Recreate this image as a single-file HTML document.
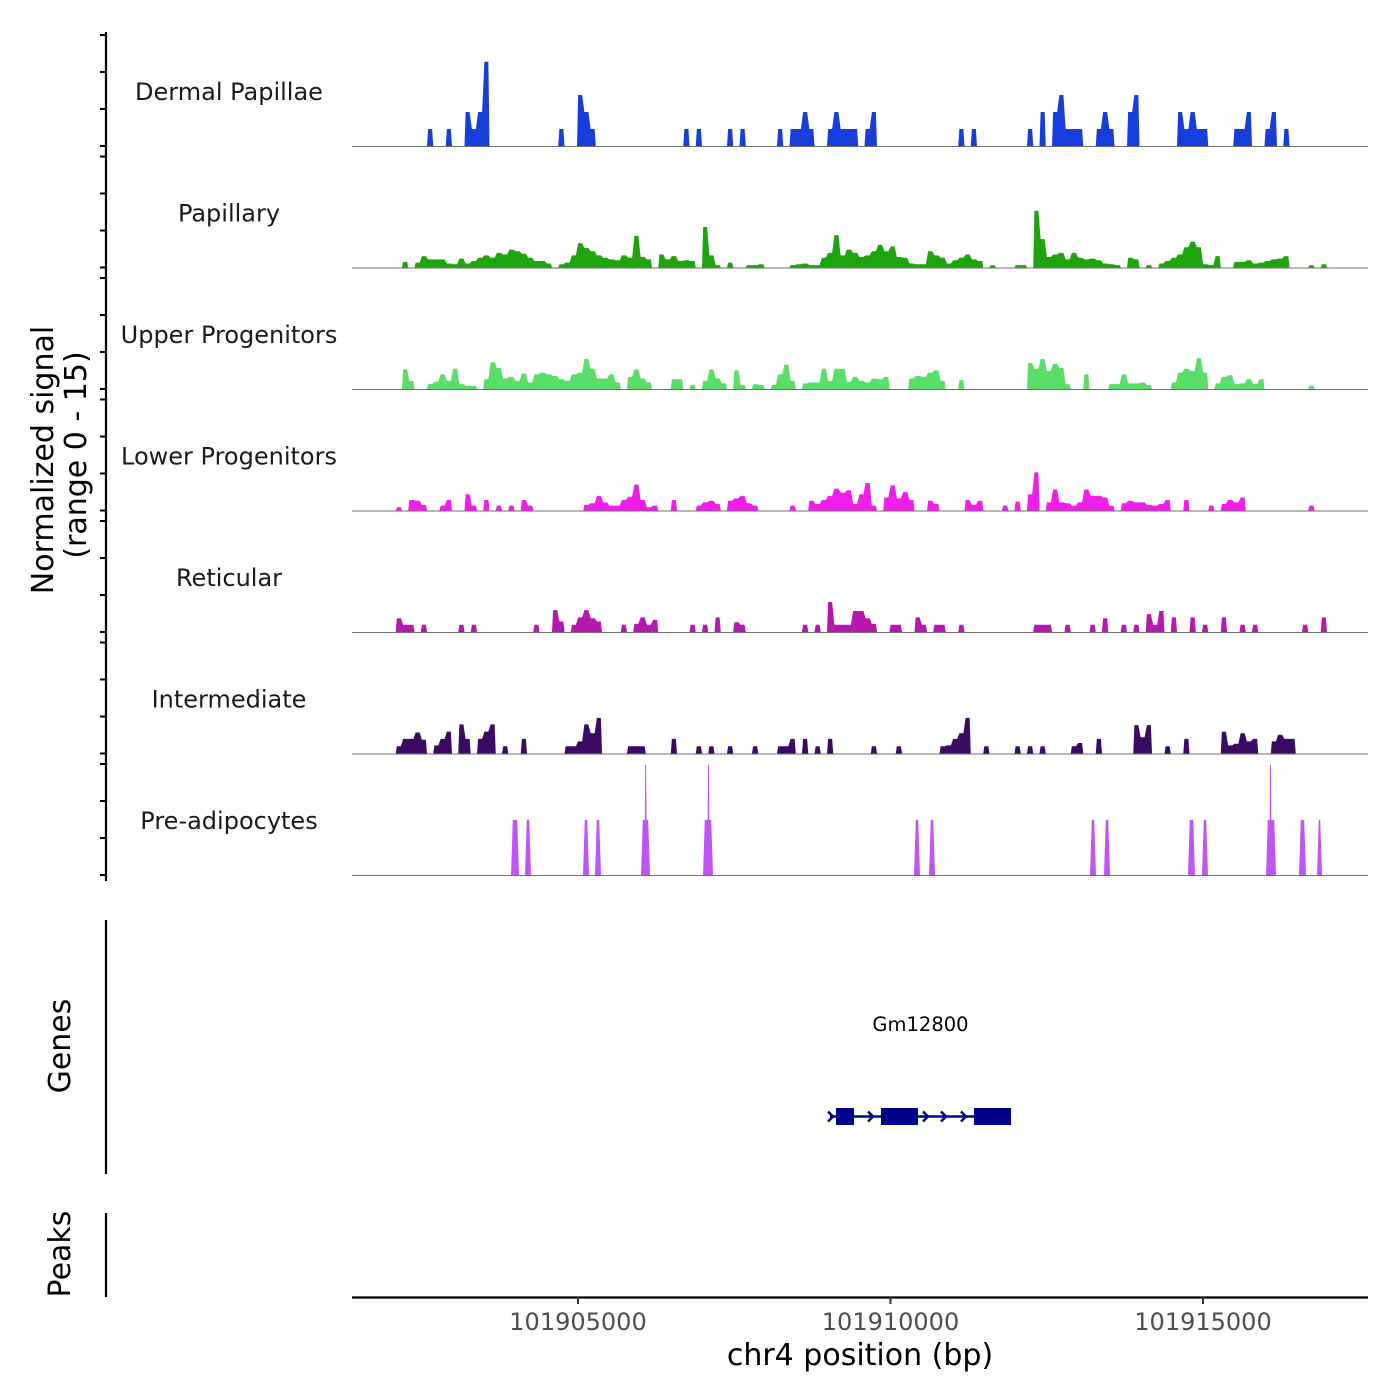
<!DOCTYPE html>
<html><head><meta charset="utf-8">
<style>
html,body{margin:0;padding:0;background:#fff;}
svg{display:block;font-family:"DejaVu Sans","Liberation Sans",sans-serif;}
</style></head>
<body>
<svg id="chart" width="1400" height="1400" viewBox="0 0 1400 1400" xmlns="http://www.w3.org/2000/svg">
<rect width="1400" height="1400" fill="#fff"/>
</svg>
<script>
// ---- data ----
const trackNames = ["Dermal Papillae","Papillary","Upper Progenitors","Lower Progenitors","Reticular","Intermediate","Pre-adipocytes"];
const trackColors = ["#173ddb","#1ea50d","#5bdd6a","#f01ee8","#b517af","#3b0b63","#c055f5"];
const binStartBp = 101901384;
const binSizeBp = 100;
const xTickValues = [101905000,101910000,101915000];
const xTickLabels = ["101905000","101910000","101915000"];
const yTickValues = [0,5,10,15];
// [bin index, normalized signal]
const dermalPapillae = [[12,2.1],[15,2.1],[18,4.2],[19,2.1],[20,4.2],[21,10.4],[33,2.1],[36,6.3],[37,4.2],[38,2.1],[53,2.1],[55,2.1],[60,2.1],[62,2.1],[68,2.1],[70,2.1],[71,2.1],[72,4.2],[73,2.1],[76,2.1],[77,4.2],[78,2.1],[79,2.1],[80,2.1],[82,2.1],[83,4.2],[97,2.1],[99,2.1],[108,2.1],[110,4.2],[112,4.2],[113,6.3],[114,2.1],[115,2.1],[116,2.1],[119,2.1],[120,4.2],[121,2.1],[124,4.2],[125,6.3],[132,4.2],[133,2.1],[134,4.2],[135,2.1],[136,2.1],[141,2.1],[142,2.1],[143,4.2],[146,2.1],[147,4.2],[149,2.1]];
const papillary = [[8,0.7],[10,0.6],[11,1.4],[12,1],[13,1],[14,1],[15,0.5],[16,0.4],[17,1.1],[18,0.5],[19,0.8],[20,1.2],[21,1.5],[22,1.2],[23,1.8],[24,1.6],[25,2.2],[26,2],[27,1.7],[28,1.2],[29,0.8],[30,0.8],[31,0.5],[33,0.4],[34,0.6],[35,1.5],[36,3],[37,2.4],[38,2],[39,1.5],[40,1.2],[41,1],[42,0.9],[43,1.5],[44,1.2],[45,3.9],[46,1.3],[47,1],[49,1.6],[50,1],[51,1.4],[52,0.8],[53,0.9],[54,0.8],[56,5],[57,1.5],[58,0.3],[60,0.6],[63,0.3],[64,0.3],[65,0.4],[70,0.3],[71,0.4],[72,0.5],[73,0.3],[74,0.3],[75,1.2],[76,1.8],[77,4],[78,1.5],[79,2.2],[80,1.8],[81,1.3],[82,1.5],[83,2],[84,2.8],[85,2],[86,2.6],[87,1.3],[88,1.2],[89,0.5],[90,0.4],[91,0.4],[92,2],[93,1.5],[94,1.2],[95,0.5],[96,0.9],[97,1.2],[98,1.6],[99,1],[100,0.8],[102,0.3],[106,0.3],[107,0.3],[109,7],[110,3.5],[111,1.3],[112,1.6],[113,1.8],[114,1],[115,1.8],[116,1.2],[117,1],[118,1.1],[119,0.9],[120,0.5],[121,0.4],[122,0.3],[124,1.2],[125,1],[127,0.3],[129,0.5],[130,0.8],[131,1.2],[132,1.6],[133,2.5],[134,3.2],[135,2.5],[136,0.4],[137,0.3],[138,1.4],[141,0.7],[142,0.7],[143,0.9],[144,0.5],[145,0.6],[146,0.8],[147,1],[148,1.1],[149,1.4],[153,0.3],[155,0.4]];
const upperProgenitors = [[8,2.4],[9,1],[12,0.6],[13,0.9],[14,1.8],[15,1],[16,2.5],[17,0.6],[18,0.4],[19,0.4],[21,1.2],[22,3.3],[23,2.6],[24,1.3],[25,1.5],[26,1],[27,1.9],[28,0.8],[29,1.8],[30,2],[31,1.8],[32,1.6],[33,1.2],[34,1],[35,1.8],[36,2],[37,3.7],[38,2.5],[39,1.3],[40,1.3],[41,1.8],[42,0.8],[44,1.5],[45,2.4],[46,1.3],[47,0.8],[51,1.2],[52,1.2],[54,0.5],[56,1],[57,2.4],[58,1.3],[59,0.7],[61,2.3],[62,0.5],[64,0.6],[65,0.5],[67,0.5],[68,1.8],[69,3],[70,1],[72,0.7],[73,0.8],[74,0.8],[75,2.5],[76,1],[77,2.5],[78,2.5],[79,0.9],[80,1.5],[81,1],[82,0.8],[83,1.3],[84,1.2],[85,1.5],[89,1.3],[90,1.6],[91,1.5],[92,2],[93,2.3],[94,1],[97,1.1],[108,3.2],[109,2.5],[110,3.7],[111,2.2],[112,3.1],[113,2.6],[114,0.6],[117,1.8],[121,0.6],[122,0.6],[123,1.8],[124,0.7],[125,0.7],[126,0.8],[127,0.5],[131,0.8],[132,2],[133,2.5],[134,2.2],[135,3.8],[136,2],[138,0.7],[139,1.5],[140,1.7],[141,0.6],[142,0.7],[143,1.2],[144,0.6],[145,1.2],[153,0.4]];
const lowerProgenitors = [[7,0.4],[9,1.3],[10,1.2],[11,0.7],[14,0.6],[15,1.3],[18,2],[19,0.6],[21,1.3],[23,0.6],[25,0.6],[27,1.3],[28,0.6],[37,0.7],[38,0.9],[39,1.8],[40,1],[41,0.6],[42,0.6],[43,1.3],[44,1.7],[45,3.2],[46,1.3],[47,0.4],[48,0.6],[51,1.3],[55,0.6],[56,1],[57,1.2],[58,0.8],[60,1.2],[61,1.5],[62,1.8],[63,0.9],[64,0.6],[70,0.6],[73,1.2],[74,0.8],[75,1.3],[76,1.8],[77,2.7],[78,2.2],[79,2.5],[80,0.8],[81,2],[82,3.4],[83,0.6],[85,1.6],[86,3.1],[87,1.5],[88,2.3],[89,1.3],[92,1.2],[93,0.8],[98,1.3],[99,0.7],[100,1.2],[104,0.6],[106,1.1],[108,2],[109,4.7],[111,1],[112,2.6],[113,1],[114,0.9],[115,0.6],[116,1],[117,2.6],[118,1.8],[119,1.8],[120,1.6],[121,0.6],[123,0.9],[124,1.2],[125,1],[126,1],[127,0.7],[128,0.6],[129,0.8],[130,1.3],[133,1.3],[137,0.6],[139,0.8],[140,1.3],[141,1],[142,1.6],[153,0.6]];
const reticular = [[7,1.7],[8,0.9],[9,0.9],[11,0.9],[17,0.9],[19,0.9],[29,0.9],[32,2.7],[33,1.3],[35,0.9],[36,1.8],[37,2.7],[38,1.7],[39,1.3],[43,0.9],[45,1],[46,1.8],[47,0.9],[48,1.5],[54,0.9],[56,0.9],[58,1.8],[61,1.2],[62,0.9],[72,0.9],[74,0.9],[76,3.7],[77,0.9],[78,0.9],[79,0.9],[80,2.6],[81,2.6],[82,1.7],[83,1],[86,0.9],[87,0.9],[90,1.8],[91,0.9],[93,0.9],[94,0.9],[97,0.9],[109,0.9],[110,0.9],[111,0.9],[114,0.9],[118,0.9],[120,1.7],[123,0.9],[125,0.9],[127,2.2],[128,0.9],[129,2.6],[131,1.8],[134,1.8],[136,0.9],[139,1.8],[142,0.9],[144,0.9],[152,0.9],[155,1.8]];
const intermediate = [[7,0.9],[8,1.8],[9,1.8],[10,2.6],[11,1.7],[13,1],[14,1.8],[15,2.7],[17,3.6],[18,1.8],[20,1.8],[21,2.7],[22,3.6],[24,0.9],[27,1.8],[34,0.9],[35,0.9],[36,1.5],[37,3.6],[38,2.5],[39,4.4],[44,0.9],[45,0.9],[46,0.9],[51,1.8],[55,0.9],[57,0.9],[60,0.9],[64,0.9],[68,0.9],[69,0.9],[70,1.8],[72,1.8],[74,0.9],[76,1.8],[83,0.9],[87,0.9],[94,0.9],[95,1],[96,1.8],[97,2.5],[98,4.4],[101,0.9],[106,0.9],[108,0.9],[110,0.9],[115,0.9],[116,1.3],[119,1.8],[125,3.5],[126,2],[127,3.5],[130,0.9],[133,1.8],[139,2.7],[140,1],[141,1.2],[142,2.5],[143,1.5],[144,1.8],[147,1.5],[148,2.3],[149,1.8],[150,1.8]];
// pre-adipocytes: [startBp, endBp, signal]
const preAdipocytes = [[101903928,101904056,6.8],[101904152,101904248,6.8],[101905080,101905176,6.8],[101905272,101905368,6.8],[101906008,101906152,6.8],[101907000,101907160,6.8],[101910376,101910472,6.8],[101910616,101910712,6.8],[101913192,101913288,6.8],[101913416,101913512,6.8],[101914760,101914872,6.8],[101914984,101915080,6.8],[101916008,101916168,6.8],[101916536,101916648,6.8],[101916824,101916904,6.8]];
const preAdipocyteSpikes = [[101906083,13.6],[101907088,13.6],[101916080,13.6]];
const geneName = "Gm12800";
const geneStartBp = 101909032;
const geneEndBp = 101911928;
const geneExons = [[101909128,101909416],[101909848,101910440],[101911336,101911928]];
const geneArrowsBp = [101909672,101910552,101910840,101911160];

// ---- scales ----
const X0 = 352, X1 = 1368;
const pxPerBp = 0.0625;
function xs(bp){ return 578 + (bp - 101905000) * pxPerBp; }
const pxPerUnit = 8.1;
const baseline0 = 146, trackStep = 121.5;
function base(k){ return baseline0 + trackStep * k; }
function ys(k, v){ return base(k) - v * pxPerUnit; }

const NS = "http://www.w3.org/2000/svg";
const svg = document.getElementById("chart");
function mk(tag, attrs, parent){
  const e = document.createElementNS(NS, tag);
  for (const k in attrs) e.setAttribute(k, attrs[k]);
  (parent || svg).appendChild(e);
  return e;
}

const binTracks = [dermalPapillae, papillary, upperProgenitors, lowerProgenitors, reticular, intermediate];

// ---- track labels ----
trackNames.forEach((name, k) => {
  const t = mk("text", {x:229, y:base(k)-46, "font-size":24, "text-anchor":"middle", fill:"#1a1a1a"});
  t.textContent = name;
  
  
});

// ---- binned area tracks ----
binTracks.forEach((arr, k) => {
  const g = mk("g", {});
  
  
  const vals = {};
  arr.forEach(p => { vals[p[0]] = p[1]; });
  const idxs = arr.map(p => p[0]).sort((a,b)=>a-b);
  let runs = [], cur = null;
  idxs.forEach(i => {
    if (cur && i === cur[cur.length-1] + 1) cur.push(i); else { cur = [i]; runs.push(cur); }
  });
  runs.forEach(run => {
    const pts = [];
    const b = base(k);
    const xl = i => xs(binStartBp + i*binSizeBp);
    pts.push([xl(run[0]), b]);
    run.forEach(i => {
      const a = xl(i), c = xl(i+1), w = c - a;
      pts.push([a + w*0.18, ys(k, vals[i])]);
      pts.push([c - w*0.18, ys(k, vals[i])]);
    });
    pts.push([xl(run[run.length-1]+1), b]);
    const poly = mk("polygon", {points: pts.map(p=>p[0].toFixed(2)+","+p[1].toFixed(2)).join(" "), fill: trackColors[k]}, g);
    
    
  });
});

// ---- pre-adipocytes ----
{
  const k = 6;
  const g = mk("g", {});
  
  
  preAdipocytes.forEach(s => {
    const a = xs(s[0]), c = xs(s[1]), y = ys(k, s[2]), b = base(k);
    const poly = mk("polygon", {points:`${a},${b} ${a+1.8},${y} ${c-1.8},${y} ${c},${b}`, fill: trackColors[k]}, g);
    
    
  });
  preAdipocyteSpikes.forEach(s => {
    const x = xs(s[0]);
    const poly = mk("polygon", {points:`${x-1},${base(k)-20} ${x-0.5},${ys(k,s[1])} ${x+0.5},${ys(k,s[1])} ${x+1},${base(k)-20}`, fill: trackColors[k]}, g);
    
    
  });
}

// baselines
trackNames.forEach((name, k) => {
  const l = mk("line", {x1:X0, x2:X1, y1:base(k)+0.5, y2:base(k)+0.5, stroke:"#707070", "stroke-width":1});
  
  
});

// ---- left y axis ----
{
  const l = mk("line", {x1:106, x2:106, y1:32, y2:881, stroke:"#000", "stroke-width":2.2});
  
  
  trackNames.forEach((n, k) => {
    yTickValues.forEach(v => {
      const y = base(k) - v * (111/15);
      const t = mk("line", {x1:100, x2:106, y1:y, y2:y, stroke:"#000", "stroke-width":2});
      
      
    });
  });
  const tt = mk("text", {transform:"translate(53,460) rotate(-90)", "font-size":30, "text-anchor":"middle", fill:"#000"});
  tt.textContent = "Normalized signal";
  
  
  const t2 = mk("text", {transform:"translate(86,455) rotate(-90)", "font-size":30, "text-anchor":"middle", fill:"#000"});
  t2.textContent = "(range 0 - 15)";
  
  
}

// ---- genes panel ----
{
  const l = mk("line", {x1:106, x2:106, y1:920, y2:1174, stroke:"#000", "stroke-width":2.2});
  
  
  const t = mk("text", {transform:"translate(70,1046) rotate(-90)", "font-size":30, "text-anchor":"middle", fill:"#000"});
  t.textContent = "Genes";
  
  
  const g = mk("g", {});
  
  
  const yc = 1116.5;
  mk("line", {x1:xs(geneStartBp), x2:xs(geneEndBp), y1:yc, y2:yc, stroke:"#00008b", "stroke-width":2.5}, g);
  geneExons.forEach(e => {
    const r = mk("rect", {x:xs(e[0]), y:yc-8.5, width:xs(e[1])-xs(e[0]), height:17, fill:"#00008b"}, g);
    
    
  });
  [geneStartBp].concat(geneArrowsBp).forEach(bp => {
    const x = xs(bp) + 3;
    const p = mk("polyline", {points:`${x-5},${yc-5} ${x},${yc} ${x-5},${yc+5}`, fill:"none", stroke:"#00008b", "stroke-width":2.5}, g);
    
    
  });
  const gl = mk("text", {x:(xs(geneStartBp)+xs(geneEndBp))/2, y:1031, "font-size":19.5, "text-anchor":"middle", fill:"#000"});
  gl.textContent = geneName;
  
  
}

// ---- peaks panel ----
{
  const l = mk("line", {x1:106, x2:106, y1:1213, y2:1297, stroke:"#000", "stroke-width":2.2});
  
  
  const t = mk("text", {transform:"translate(70,1254) rotate(-90)", "font-size":30, "text-anchor":"middle", fill:"#000"});
  t.textContent = "Peaks";
  
  
}

// ---- x axis ----
{
  const l = mk("line", {x1:X0, x2:X1, y1:1297.5, y2:1297.5, stroke:"#000", "stroke-width":2.2});
  
  
  xTickValues.forEach((v, i) => {
    const x = xs(v);
    const t = mk("line", {x1:x, x2:x, y1:1297, y2:1304, stroke:"#333", "stroke-width":2});
    
    
    const lb = mk("text", {x:x, y:1330, "font-size":24, "text-anchor":"middle", fill:"#4d4d4d"});
    lb.textContent = xTickLabels[i];
    
    
  });
  const tt = mk("text", {x:860, y:1365, "font-size":30, "text-anchor":"middle", fill:"#000"});
  tt.textContent = "chr4 position (bp)";
  
  
}
</script>
</body></html>
